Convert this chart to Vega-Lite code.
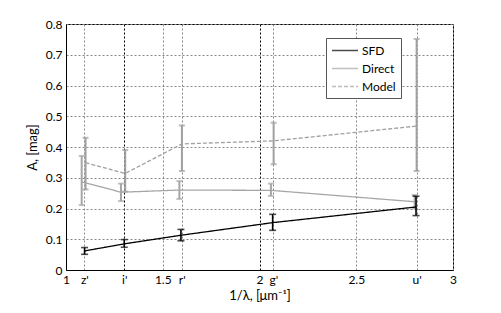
{
  "$schema": "https://vega.github.io/schema/vega-lite/v6.json",
  "width": 387,
  "height": 246,
  "autosize": {"type": "none"},
  "padding": {"left": 66, "top": 24, "right": 48, "bottom": 43},
  "background": "white",
  "config": {
    "font": "Lato",
    "view": {"stroke": "black", "strokeWidth": 1},
    "axis": {
      "labelFont": "Lato", "labelFontSize": 12, "labelColor": "black",
      "titleFont": "Lato", "titleFontSize": 13, "titleFontWeight": "normal", "titleColor": "black",
      "domainColor": "black", "tickSize": 0, "labelPadding": 4
    },
    "legend": {"labelFont": "Lato", "labelFontSize": 12, "labelColor": "black"}
  },
  "data": {"values": [
    {"series": "SFD", "band": "z'", "x": 1.096, "y": 0.062, "lo": 0.051, "hi": 0.073},
    {"series": "SFD", "band": "i'", "x": 1.301, "y": 0.085, "lo": 0.074, "hi": 0.099},
    {"series": "SFD", "band": "r'", "x": 1.594, "y": 0.113, "lo": 0.095, "hi": 0.132},
    {"series": "SFD", "band": "g'", "x": 2.068, "y": 0.154, "lo": 0.129, "hi": 0.181},
    {"series": "SFD", "band": "u'", "x": 2.809, "y": 0.205, "lo": 0.177, "hi": 0.24},
    {"series": "Direct", "band": "z'", "x": 1.081, "y": 0.287, "lo": 0.211, "hi": 0.371},
    {"series": "Direct", "band": "i'", "x": 1.284, "y": 0.253, "lo": 0.224, "hi": 0.281},
    {"series": "Direct", "band": "r'", "x": 1.586, "y": 0.26, "lo": 0.231, "hi": 0.289},
    {"series": "Direct", "band": "g'", "x": 2.059, "y": 0.259, "lo": 0.241, "hi": 0.281},
    {"series": "Direct", "band": "u'", "x": 2.802, "y": 0.222, "lo": 0.2, "hi": 0.244},
    {"series": "Model", "band": "z'", "x": 1.101, "y": 0.349, "lo": 0.262, "hi": 0.43},
    {"series": "Model", "band": "i'", "x": 1.306, "y": 0.314, "lo": 0.255, "hi": 0.39},
    {"series": "Model", "band": "r'", "x": 1.599, "y": 0.41, "lo": 0.322, "hi": 0.47},
    {"series": "Model", "band": "g'", "x": 2.073, "y": 0.42, "lo": 0.344, "hi": 0.479},
    {"series": "Model", "band": "u'", "x": 2.812, "y": 0.468, "lo": 0.322, "hi": 0.751}
  ]},
  "encoding": {
    "x": {
      "field": "x", "type": "quantitative",
      "scale": {"domain": [1, 3], "nice": false, "zero": false},
      "axis": {
        "title": "1/λ, [μm⁻¹]",
        "values": [1, 1.095, 1.301, 1.5, 1.598, 2, 2.071, 2.5, 2.812, 3],
        "labelExpr": "datum.value == 1.095 ? \"z'\" : datum.value == 1.301 ? \"i'\" : datum.value == 1.598 ? \"r'\" : datum.value == 2.071 ? \"g'\" : datum.value == 2.812 ? \"u'\" : (datum.value == 1.5 || datum.value == 2.5) ? format(datum.value, '.1f') : format(datum.value, 'd')",
        "labelFlush": false,
        "labelOverlap": false,
        "titlePadding": 4,
        "grid": true,
        "gridDash": [2, 2],
        "gridColor": {"condition": {"test": "datum.value == 1.301 || datum.value == 2", "value": "black"}, "value": "#888888"},
        "gridWidth": 1
      }
    },
    "y": {
      "field": "y", "type": "quantitative",
      "scale": {"domain": [0, 0.8], "nice": false},
      "axis": {
        "title": "A, [mag]",
        "values": [0, 0.1, 0.2, 0.3, 0.4, 0.5, 0.6, 0.7, 0.8],
        "labelExpr": "datum.value == 0 ? '0' : format(datum.value, '.1f')",
        "labelFlush": false,
        "titlePadding": 6,
        "grid": true,
        "gridDash": [2, 2],
        "gridColor": "#888888",
        "gridWidth": 1
      }
    },
    "color": {
      "field": "series", "type": "nominal",
      "scale": {"domain": ["SFD", "Direct", "Model"], "range": ["black", "#a6a6a6", "#a0a0a0"]},
      "legend": {
        "title": null, "orient": "none", "legendX": 260, "legendY": 14,
        "strokeColor": "#555555", "fillColor": "white", "padding": 5,
        "symbolType": "M-1,0H3", "symbolSize": 169, "symbolStrokeWidth": 1.3,
        "rowPadding": 4, "labelOffset": 16
      }
    }
  },
  "layer": [
    {
      "transform": [{"filter": "datum.series != 'SFD'"}],
      "mark": {"type": "errorbar", "ticks": {"size": 6}, "thickness": 2},
      "encoding": {
        "y": {"field": "lo", "type": "quantitative"},
        "y2": {"field": "hi"}
      }
    },
    {
      "mark": {"type": "line", "strokeWidth": 1.3},
      "encoding": {
        "strokeDash": {
          "field": "series", "type": "nominal",
          "scale": {"domain": ["SFD", "Direct", "Model"], "range": [[1, 0], [1, 0], [4, 2]]},
          "legend": null
        },
        "order": {"field": "x", "type": "quantitative"}
      }
    },
    {
      "transform": [{"filter": "datum.series == 'SFD'"}],
      "mark": {"type": "errorbar", "ticks": {"size": 7}, "thickness": 1.6},
      "encoding": {
        "y": {"field": "lo", "type": "quantitative"},
        "y2": {"field": "hi"}
      }
    }
  ]
}
